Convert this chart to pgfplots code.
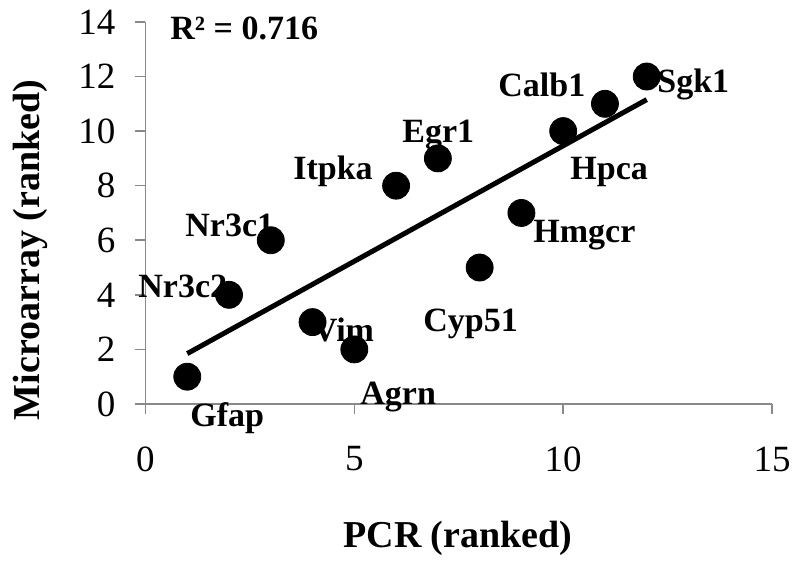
\documentclass[border=0pt]{standalone}
\usepackage{fontspec}
\setmainfont{Liberation Serif}
\usepackage{pgfplots}
\pgfplotsset{compat=1.18}
\definecolor{axgray}{RGB}{137,137,137}
\begin{document}
\begin{tikzpicture}
\begin{axis}[
  scale only axis,
  width=313.25pt, height=191pt,
  xmin=0, xmax=15, ymin=0, ymax=14,
  xtick={0,5,10,15}, ytick={0,2,4,6,8,10,12,14},
  axis lines=left,
  axis line style={-, draw=axgray, line width=0.8pt},
  tick style={draw=axgray, line width=0.8pt},
  tick align=outside,
  major tick length=5pt,
  clip=false,
  /pgf/number format/assume math mode=true,
  ticklabel style={font=\fontsize{18.5}{20}\selectfont},
  xticklabel shift=12.8pt,
  yticklabel shift=6.5pt,
]
\addplot[only marks, mark=*, mark size=6.75pt, black] coordinates {
 (1,1) (2,4) (3,6) (4,3) (5,2) (6,8) (7,9) (8,5) (9,7) (10,10) (11,11) (12,12)
};
\addplot[black, line width=2.5pt] coordinates {(1,1.846) (12,11.154)};
\begin{scope}[every node/.style={font=\fontsize{17}{20}\selectfont\bfseries, inner sep=0pt}]
\node[anchor=base west] at (axis cs:0.587,13.34) {R² = 0.716};
\node[anchor=base west] at (axis cs:3.531,8.208) {Itpka};
\node[anchor=base west] at (axis cs:0.946,6.12) {Nr3c1};
\node[anchor=base west] at (axis cs:-0.18,3.884) {Nr3c2};
\node[anchor=base west] at (axis cs:4.0,2.272) {Vim};
\node[anchor=base west] at (axis cs:5.135,-0.037) {Agrn};
\node[anchor=base west] at (axis cs:1.065,-0.843) {Gfap};
\node[anchor=base west] at (axis cs:6.141,9.564) {Egr1};
\node[anchor=base west] at (axis cs:8.439,11.25) {Calb1};
\node[anchor=base west] at (axis cs:12.246,11.40) {Sgk1};
\node[anchor=base west] at (axis cs:10.163,8.208) {Hpca};
\node[anchor=base west] at (axis cs:9.277,5.90) {Hmgcr};
\node[anchor=base west] at (axis cs:6.643,2.638) {Cyp51};
\end{scope}
\node[anchor=base, inner sep=0pt, font=\fontsize{19}{22}\selectfont\bfseries] at (axis cs:7.48,-5.277) {PCR (ranked)};
\node[anchor=base, rotate=90, inner sep=0pt, font=\fontsize{19}{22}\selectfont\bfseries] at (axis cs:-2.526,5.643) {Microarray (ranked)};
\coordinate (BL) at (axis cs:-3.483,-5.753);
\coordinate (TR) at (axis cs:15.478,14.804);
\end{axis}
\pgfresetboundingbox
\path[use as bounding box] (BL) rectangle (TR);
\end{tikzpicture}
\end{document}
